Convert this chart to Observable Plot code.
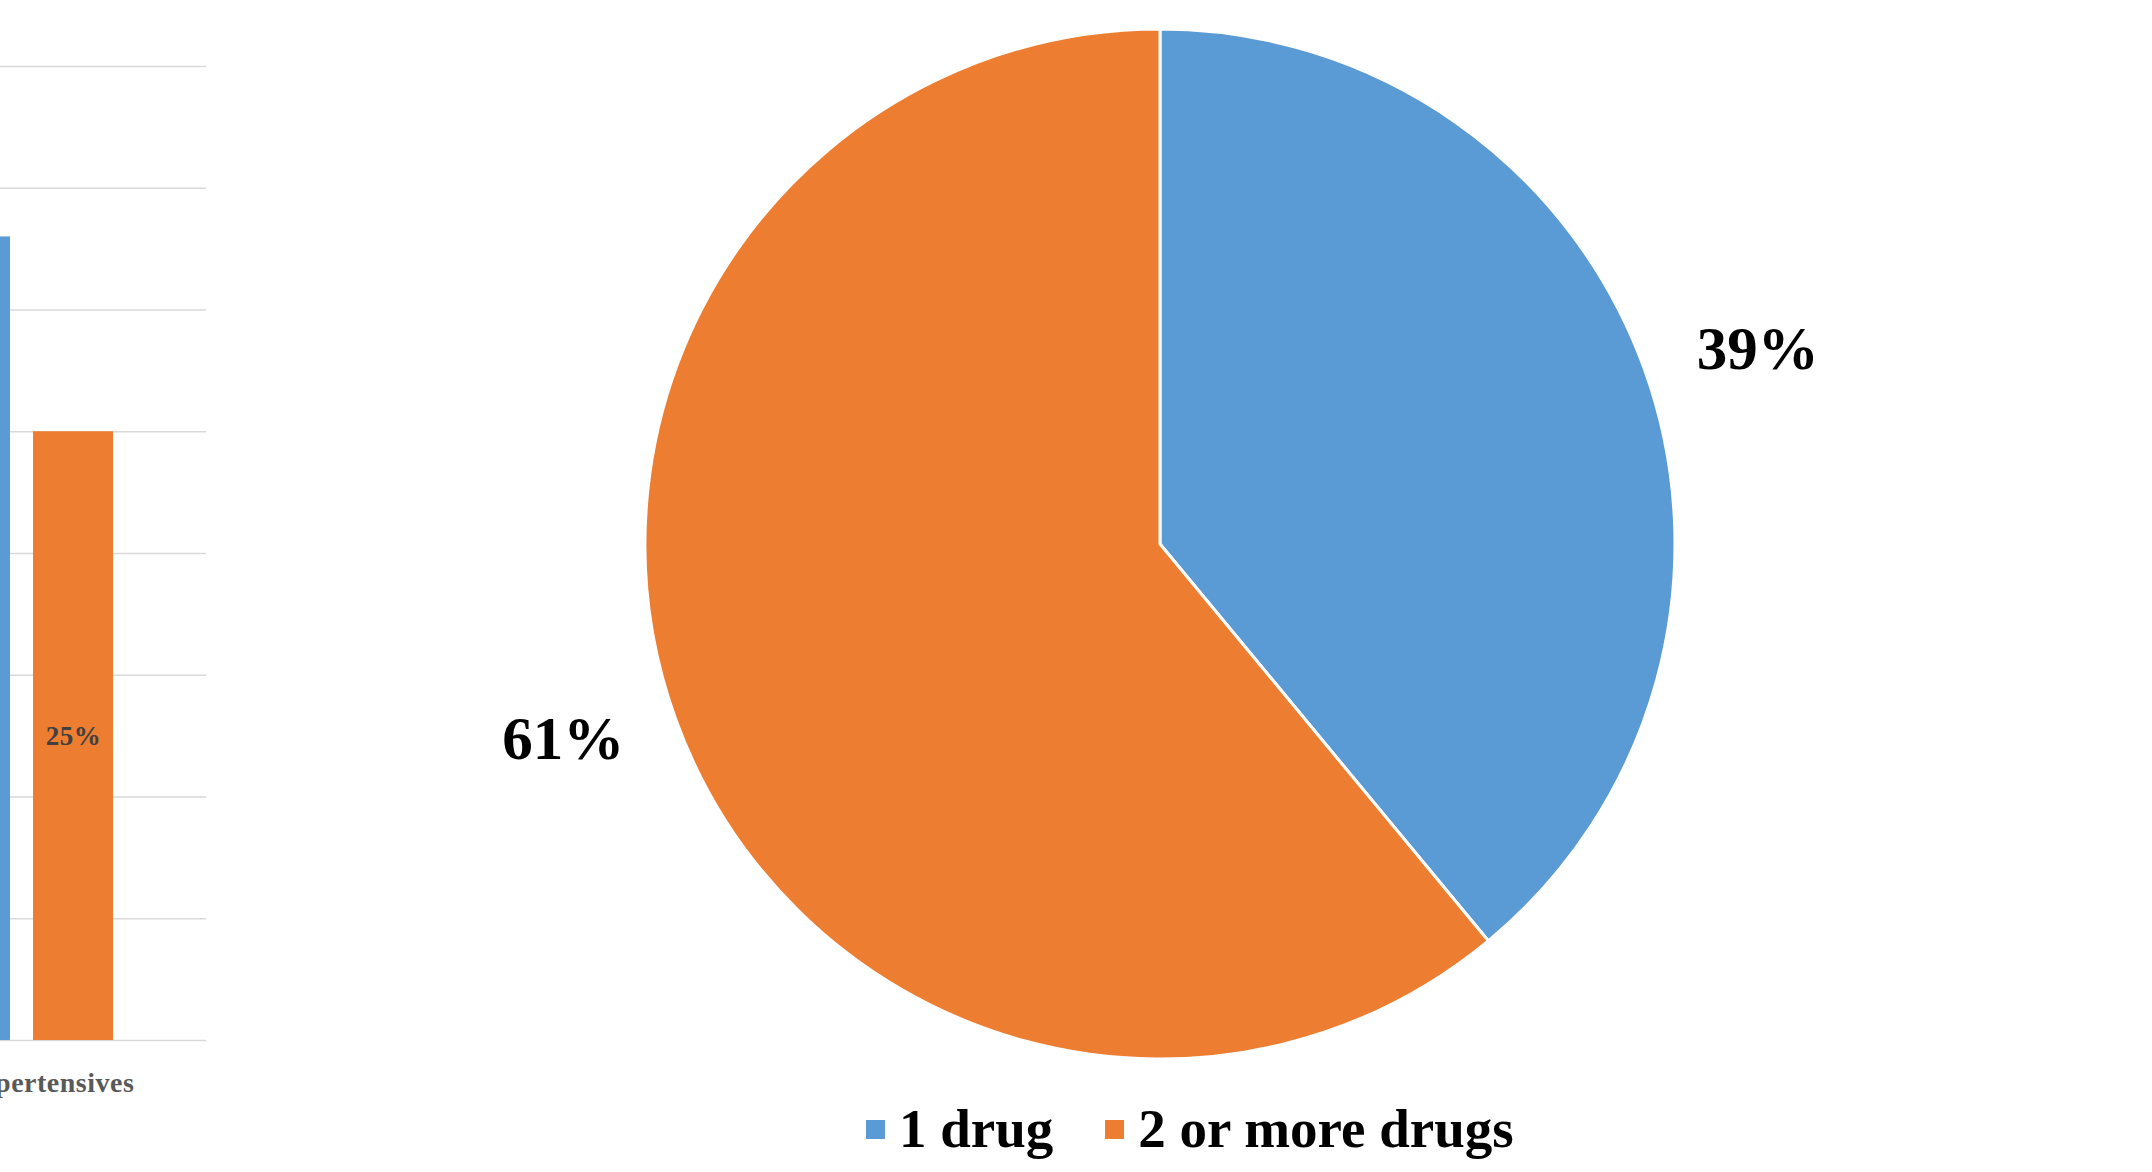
<!DOCTYPE html>
<html><head><meta charset="utf-8">
<script src="https://cdn.jsdelivr.net/npm/d3@7"></script>
<script src="https://cdn.jsdelivr.net/npm/@observablehq/plot@0.6"></script>
<style>
html,body{margin:0;padding:0;background:#fff;}
#wrap{position:relative;width:2152px;height:1172px;overflow:hidden;background:#fff;}
#bar{position:absolute;left:-300px;top:0;}
#pie{position:absolute;left:0;top:0;}
#legend{position:absolute;left:866px;top:1097px;}
.lg-swatches{font-family:"Liberation Serif",serif !important;font-size:55px !important;font-weight:bold !important;color:#000 !important;margin:0 !important;line-height:64px !important;}
.lg-swatch{margin-right:52px !important;}
.lg-swatch > svg{margin-right:14px !important;}
</style></head>
<body><div id="wrap"><div id="bar"></div><div id="pie"></div><div id="legend"></div></div>
<script>
// ---- data ----
const barCategories = ["Antihypertensives"];
const barSeries = ["Series 1", "Series 2"];
const barValues = [33, 25];
const gridTicks = [0, 5, 10, 15, 20, 25, 30, 35, 40];
const pieLabels = ["1 drug", "2 or more drugs"];
const pieValues = [39, 61];
const seriesColors = ["#5B9BD5", "#ED7D31"];

// ---- left (cropped) bar chart ----
const barRows = barSeries.map((s, i) => ({category: barCategories[0], series: s, value: barValues[i]}));
const barChart = Plot.plot({
  width: 506, height: 1100,
  marginLeft: 137, marginRight: 0, marginTop: 66, marginBottom: 60,
  style: {fontFamily: '"Liberation Serif", serif', fontSize: "28px", fontWeight: "bold", color: "#595959", background: "transparent", overflow: "visible", letterSpacing: "0.5px"},
  fx: {padding: 0, axis: "bottom", tickSize: 0, tickPadding: 32, label: null},
  x: {domain: barSeries, paddingInner: 0.221, paddingOuter: 0.885, axis: null},
  y: {domain: [0, 40], axis: null},
  color: {domain: barSeries, range: seriesColors},
  marks: [
    Plot.ruleY(gridTicks, {stroke: "#d9d9d9", strokeWidth: 1.5}),
    Plot.barY(barRows, {fx: "category", x: "series", y: "value", fill: "series"}),
    Plot.text(barRows, {fx: "category", x: "series", y: d => d.value / 2, text: d => d.value + "%", fontSize: 27, fontWeight: "bold", fill: "#404040"})
  ]
});
document.getElementById("bar").appendChild(barChart);

// ---- pie chart ----
const color = Plot.scale({color: {domain: pieLabels, range: seriesColors}});
const pieRows = pieLabels.map((l, i) => ({label: l, value: pieValues[i]}));
const arcs = d3.pie().sort(null).value(d => d.value)(pieRows);
const labelRadius = 1.22, labelTurn = 0.03;
const labelRows = arcs.map(a => {
  const m = (a.startAngle + a.endAngle) / 2 + labelTurn;
  return {x: labelRadius * Math.sin(m), y: labelRadius * Math.cos(m), text: a.data.value + "%"};
});

function pieMark(...args) {
  const scales = args.find(a => a && typeof a.x === "function" && typeof a.y === "function");
  const cx = scales.x(0), cy = scales.y(0), r = scales.x(1) - cx;
  const arc = d3.arc().innerRadius(0).outerRadius(r);
  const g = d3.create("svg:g").attr("transform", `translate(${cx},${cy})`);
  g.selectAll("path").data(arcs).join("path")
    .attr("d", arc)
    .attr("fill", d => color.apply(d.data.label))
    .attr("stroke", "#fff").attr("stroke-width", 3).attr("stroke-linejoin", "round");
  return g.node();
}

const pieChart = Plot.plot({
  width: 2152, height: 1090, margin: 0,
  style: {background: "transparent", overflow: "visible"},
  x: {domain: [-1, 1], range: [645, 1675], axis: null},
  y: {domain: [-1, 1], range: [1059, 29], axis: null},
  marks: [
    pieMark,
    Plot.text(labelRows, {x: "x", y: "y", text: "text", fontSize: 61, fontWeight: "bold", fontFamily: '"Liberation Serif", serif', fill: "#000"})
  ]
});
document.getElementById("pie").appendChild(pieChart);

// ---- legend ----
const legend = Plot.legend({color: {domain: pieLabels, range: seriesColors}, legend: "swatches", swatchSize: 19, className: "lg"});
document.getElementById("legend").appendChild(legend);
</script>
</body></html>
